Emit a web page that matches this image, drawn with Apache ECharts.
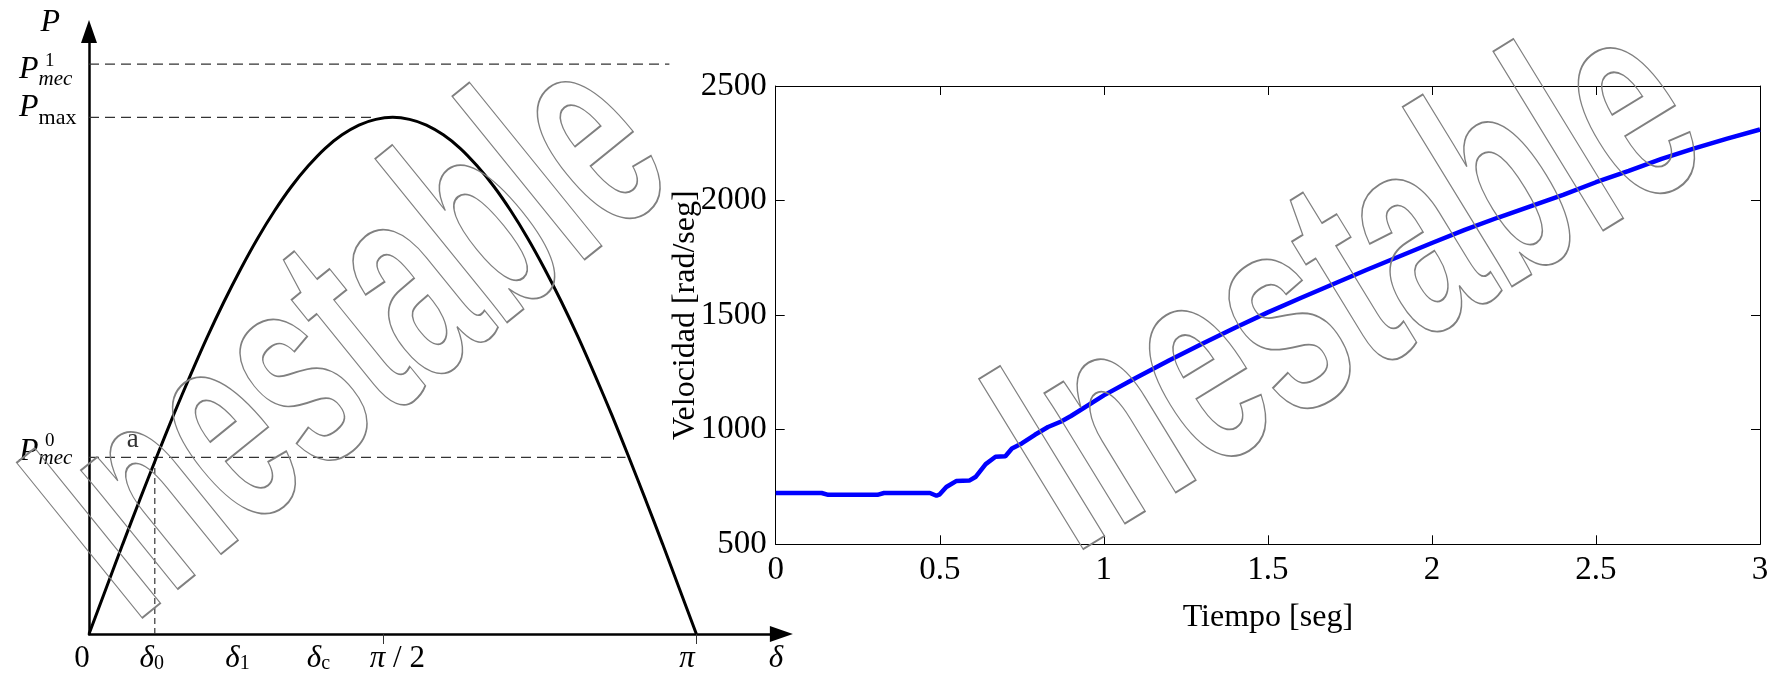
<!DOCTYPE html>
<html><head><meta charset="utf-8">
<script src="https://cdn.jsdelivr.net/npm/echarts@6/dist/echarts.min.js"></script>
<style>html,body{margin:0;padding:0;background:#fff}#c{width:1773px;height:680px}</style>
</head><body><div id="c"></div>
<script>
// ---------- Left diagram: power–angle curve (δ in degrees, P relative to Pmax) ----------
const deltaDeg = [0,5,10,15,20,25,30,35,40,45,50,55,60,65,70,75,80,85,90,95,100,105,110,115,120,125,130,135,140,145,150,155,160,165,170,175,180];
const powerP   = [0,0.087,0.174,0.259,0.342,0.423,0.5,0.574,0.643,0.707,0.766,0.819,0.866,0.906,0.94,0.966,0.985,0.996,1,0.996,0.985,0.966,0.94,0.906,0.866,0.819,0.766,0.707,0.643,0.574,0.5,0.423,0.342,0.259,0.174,0.087,0];
const pLevelNames = ['mec0','max','mec1'];
const pLevels     = [0.342, 1, 1.103];       // P_mec^0, P_max, P_mec^1
const pDashEnds   = [159, 85, 172];          // where each dashed guide ends (δ, degrees)
const delta0      = 19.5;                    // δ0
const deltaTickVals  = [87.3, 180];          // π/2 , π
const deltaLabelVals = [0, 18.6, 44, 68, 91.4, 177.2, 203.6];
const deltaLabelText = ['{z|0}','{d|δ}{s|0}','{d|δ}{s|1}','{d|δ}{s|c}','{d|π}{n| / 2}','{d|π}','{d|δ}'];
const pointLabel = 'a';
const watermark = 'Inestable';

// ---------- Right chart: speed vs time ----------
const tiempo    = [0,0.14,0.16,0.31,0.33,0.47,0.49,0.5,0.52,0.55,0.59,0.61,0.64,0.67,0.7,0.72,0.75,0.79,0.83,0.87,0.9,1.0,1.1,1.2,1.3,1.4,1.5,1.6,1.7,1.8,1.9,2.0,2.1,2.2,2.3,2.4,2.5,2.6,2.7,2.8,2.9,3.0];
const velocidad = [724,724,716,716,724,724,712,718,750,776,778,795,850,882,884,918,940,978,1012,1036,1060,1150,1228,1303,1375,1445,1512,1575,1636,1697,1756,1815,1872,1925,1975,2025,2080,2130,2182,2228,2270,2310];

const serif = "'Liberation Serif','Times New Roman',serif";
const chart = echarts.init(document.getElementById('c'), null, {renderer:'canvas'});

function pLabel(v){
  const i = pLevels.findIndex(p => Math.abs(p - v) < 1e-6);
  const n = pLevelNames[i];
  if (n === 'max') return '{Pm|P}{mx|max}';
  if (n === 'mec0') return '{sp| }{sup0|0}\n{P0|P}{mec0|mec}';
  return '{sp| }{sup1|1}\n{P1|P}{mec1|mec}';
}
function dLabel(v){
  const i = deltaLabelVals.findIndex(p => Math.abs(p - v) < 1e-6);
  return i < 0 ? '' : deltaLabelText[i];
}
const plain = v => String(v);
const dashStyle = {color:'#333', width:1.2, type:[10,6]};
const T = (o) => Object.assign({fontFamily:serif, color:'#000'}, o);
const wmStyle = {text:watermark, font:"bold 290px 'Liberation Sans'", fill:'none', stroke:'#808080', lineWidth:2, align:'center', verticalAlign:'middle'};

chart.setOption({
  animation:false,
  grid:[
    {left:89, top:31.5, width:692.4, height:602.5},
    {left:775.7, top:86, right:13, bottom:135.7}
  ],
  graphic:[
    {type:'text', x:357, y:341, rotation:39*Math.PI/180, scaleX:0.56, scaleY:1, silent:true, z:100, style:wmStyle},
    {type:'text', x:1353, y:290, rotation:31.5*Math.PI/180, scaleX:0.6, scaleY:1, silent:true, z:100, style:wmStyle}
  ],
  xAxis:[
    {gridIndex:0, type:'value', min:0, max:205.2,
     axisLine:{onZero:false, lineStyle:{color:'#000', width:2.5}, symbol:['none','triangle'], symbolSize:[16,23]},
     axisTick:{show:true, customValues:deltaTickVals, length:10, lineStyle:{color:'#333', width:1}},
     axisLabel:{customValues:deltaLabelVals, formatter:dLabel, margin:9, color:'#000',
       rich:{
         z:T({fontSize:31, lineHeight:31, padding:[0,14,0,0]}),
         n:T({fontSize:31, lineHeight:31}),
         d:T({fontSize:31, lineHeight:31, fontStyle:'italic'}),
         s:T({fontSize:20, lineHeight:20, padding:[10,0,0,0]})
       }},
     splitLine:{show:false}},
    {gridIndex:1, type:'value', min:0, max:3, interval:0.5,
     axisLine:{onZero:false, lineStyle:{color:'#000', width:1}},
     axisTick:{inside:true, length:9, lineStyle:{color:'#000'}},
     axisLabel:{fontFamily:serif, fontSize:33, color:'#000', margin:10, formatter:plain},
     splitLine:{show:false},
     name:'Tiempo [seg]', nameLocation:'middle', nameGap:57, nameMoveOverlap:false,
     nameTextStyle:{fontFamily:serif, fontSize:32, color:'#000'}},
    {gridIndex:1, type:'value', min:0, max:3, interval:0.5, position:'top',
     axisLine:{onZero:false, lineStyle:{color:'#000', width:1}},
     axisTick:{inside:true, length:9, lineStyle:{color:'#000'}},
     axisLabel:{show:false}, splitLine:{show:false}}
  ],
  yAxis:[
    {gridIndex:0, type:'value', min:0, max:1.166,
     axisLine:{show:true, onZero:false, lineStyle:{color:'#000', width:2.5}, symbol:['none','triangle'], symbolSize:[16,23]},
     axisTick:{show:false},
     axisLabel:{customValues:pLevels, formatter:pLabel, margin:70, align:'left', color:'#000',
       rich:{
         sp:T({fontSize:18, width:26, lineHeight:8}),
         sup1:T({fontSize:19, lineHeight:8, padding:[9,0,0,0]}),
         P1:T({fontSize:32, fontStyle:'italic', lineHeight:16, padding:[3,0,0,0]}),
         mec1:T({fontSize:21, fontStyle:'italic', lineHeight:16, padding:[22,0,0,0]}),
         sup0:T({fontSize:19, lineHeight:8, padding:[0,0,17,0]}),
         P0:T({fontSize:32, fontStyle:'italic', lineHeight:16, padding:[0,0,20,0]}),
         mec0:T({fontSize:21, fontStyle:'italic', lineHeight:16, padding:[0,0,5,0]}),
         Pm:T({fontSize:32, fontStyle:'italic', lineHeight:16, padding:[0,0,20,0]}),
         mx:T({fontSize:22, lineHeight:16, padding:[2,0,0,0]})
       }},
     splitLine:{show:false},
     name:'P', nameLocation:'end', nameGap:9,
     nameTextStyle:{fontFamily:serif, fontSize:32, fontStyle:'italic', color:'#000', align:'right', verticalAlign:'middle', padding:[0,29,0,0]}},
    {gridIndex:1, type:'value', min:500, max:2500, interval:500,
     axisLine:{show:true, onZero:false, lineStyle:{color:'#000', width:1}},
     axisTick:{show:true, inside:true, length:9, lineStyle:{color:'#000'}},
     axisLabel:{fontFamily:serif, fontSize:33, color:'#000', margin:9, formatter:plain},
     splitLine:{show:false},
     name:'Velocidad [rad/seg]', nameLocation:'middle', nameGap:74, nameMoveOverlap:false,
     nameTextStyle:{fontFamily:serif, fontSize:32, color:'#000'}},
    {gridIndex:1, type:'value', min:500, max:2500, interval:500, position:'right',
     axisLine:{show:true, onZero:false, lineStyle:{color:'#000', width:1}},
     axisTick:{show:true, inside:true, length:9, lineStyle:{color:'#000'}},
     axisLabel:{show:false}, splitLine:{show:false}}
  ],
  series:[
    {type:'line', xAxisIndex:0, yAxisIndex:0, showSymbol:false, symbol:'none', z:5, smooth:0.3,
     data:deltaDeg.map((d,i)=>[d, powerP[i]]), lineStyle:{color:'#000', width:3}},
    ...pLevels.map((p,i)=>({type:'line', xAxisIndex:0, yAxisIndex:0, symbol:'none', z:2,
      data:[[0,p],[pDashEnds[i],p]], lineStyle:dashStyle})),
    {type:'line', xAxisIndex:0, yAxisIndex:0, symbol:'none', z:2,
     data:[[delta0,0],[delta0,pLevels[0]]], lineStyle:{color:'#333', width:1.2, type:[6,4]}},
    {type:'scatter', xAxisIndex:0, yAxisIndex:0, symbolSize:0.01,
     data:[[delta0, pLevels[0]]],
     label:{show:true, formatter:pointLabel, position:'inside', offset:[-22,-17],
            fontFamily:serif, fontSize:27, color:'#000'}},
    {type:'line', xAxisIndex:1, yAxisIndex:1, symbol:'none', z:5,
     data:tiempo.map((t,i)=>[t, velocidad[i]]), lineStyle:{color:'#0000ff', width:4.5}}
  ]
});
</script></body></html>
